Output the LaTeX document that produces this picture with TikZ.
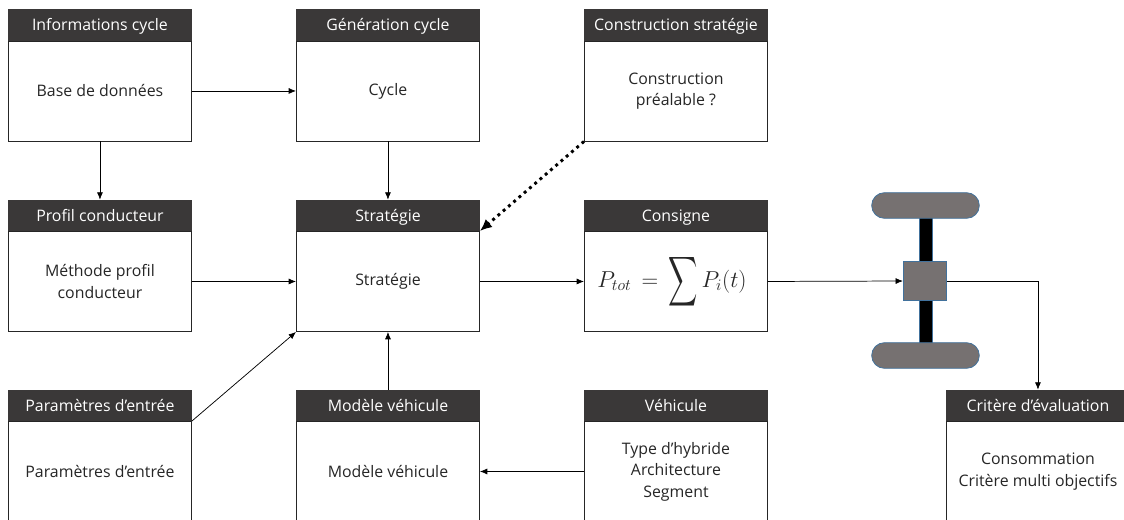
\documentclass[tikz,border=0pt]{standalone}
\usepackage{fontspec}
\setmainfont{Open Sans}
\usetikzlibrary{arrows.meta,positioning}
\definecolor{hdr}{HTML}{3A3838}
\definecolor{wheel}{HTML}{767171}
\definecolor{wedge}{HTML}{41719C}
\tikzset{
  x=0.75pt,y=-0.75pt,
  bodybox/.style={draw=black!85,line width=0.7pt,fill=white,minimum width=137.25pt,minimum height=75pt,inner sep=0pt,align=center,anchor=north west,font=\fontsize{11.9}{16.2}\selectfont,text=black!85},
  headbox/.style={draw=hdr,fill=hdr,line width=0.5pt,minimum width=137.25pt,minimum height=23pt,inner sep=0pt,anchor=south,text=white,font=\fontsize{11.9}{13}\selectfont,text height=10.5pt,text depth=2pt},
  conn/.style={draw=black,line width=0.55pt,-{Latex[length=5.5pt,width=4.5pt]}},
  dotconn/.style={draw=black,line width=2.2pt,dash pattern=on 2.2pt off 3pt,-{Latex[length=9pt,width=8pt]}},
  wheelpart/.style={draw=wedge,line width=0.6pt,fill=wheel,inner sep=0pt},
}
\newcommand{\mybox}[5]{%
  \node[bodybox] (#1) at (#2,#3) {#5};
  \node[headbox] (#1h) at (#1.north) {#4};
}
\begin{document}
\begin{tikzpicture}
\path[use as bounding box] (0,0) rectangle (1124,519);
\clip (0,0) rectangle (1124,519);
\mybox{info}{8}{40.5}{Informations cycle}{Base de données}
\mybox{gen}{296}{40.5}{Génération cycle}{Cycle}
\mybox{cons}{584}{40.5}{Construction stratégie}{Construction\\préalable ?}
\mybox{prof}{8}{231}{Profil conducteur}{Méthode profil\\conducteur}
\mybox{strat}{296}{231}{Stratégie}{Stratégie}
\mybox{cmd}{584}{231}{Consigne}{\raisebox{3pt}{\fontsize{18}{20}\selectfont$P_{tot}\,=\,\vcenter{\hbox{\resizebox{22pt}{32pt}{$\displaystyle\sum$}}}\,P_i(t)$}\hspace*{6pt}}
\mybox{par}{8}{421}{Paramètres d’entrée}{Paramètres d’entrée}
\mybox{mod}{296}{421}{Modèle véhicule}{Modèle véhicule}
\mybox{veh}{584}{421}{Véhicule}{Type d’hybride\\Architecture\\Segment}
\mybox{crit}{946}{421}{Critère d’évaluation}{Consommation\\Critère multi objectifs}
% vehicle
\node[draw=wedge,line width=0.6pt,fill=black,minimum width=9.2pt,minimum height=113pt,inner sep=0pt] (axle) at (926,280.5) {};
\node[wheelpart,rounded corners=9.5pt,minimum width=80.7pt,minimum height=19.2pt] (wtop) at (925.5,205.5) {};
\node[wheelpart,rounded corners=9.5pt,minimum width=80.7pt,minimum height=19.2pt] (wbot) at (925.5,355.5) {};
\node[wheelpart,minimum width=32.5pt,minimum height=29.5pt] (hub) at (925,281) {};
% connectors
\draw[conn] (info.east) -- (gen.west);
\draw[conn] (info.south) -- (profh.north);
\draw[conn] (gen.south) -- (strath.north);
\draw[dotconn] (cons.south west) -- (strat.north east);
\draw[conn] (prof.east) -- (strat.west);
\draw[conn] (par.north east) -- (strat.south west);
\draw[conn] (modh.north) -- (strat.south);
\draw[conn] (veh.west) -- (mod.east);
\draw[conn] (strat.east) -- (cmd.west);
\draw[conn] (cmd.east) -- (hub.west);
\draw[conn] (hub.east) -| (crith.north);
\end{tikzpicture}
\end{document}
